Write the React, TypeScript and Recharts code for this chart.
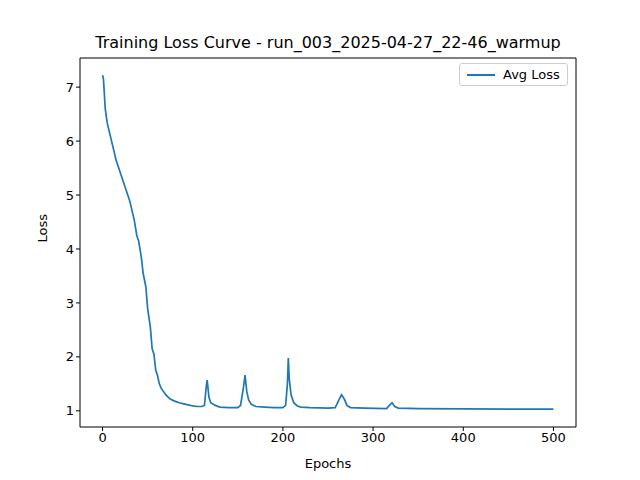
import React from "react";
import { LineChart, Line, XAxis, YAxis } from "recharts";

const epochs = [0, 1, 3, 5, 10, 15, 20, 25, 30, 35, 38, 40, 43, 45, 48, 50, 53, 55, 57, 59, 61, 63, 65, 70, 73, 75, 80, 85, 90, 95, 100, 105, 110, 113, 115, 116, 118, 120, 125, 130, 140, 150, 153, 156, 158, 160, 162, 165, 170, 180, 190, 200, 203, 205, 206, 207, 209, 212, 216, 220, 230, 250, 258, 262, 265, 268, 271, 275, 290, 315, 318, 321, 324, 328, 350, 400, 500];
const avgLoss = [7.22, 7.15, 6.6, 6.35, 6.0, 5.65, 5.4, 5.15, 4.9, 4.55, 4.25, 4.15, 3.85, 3.55, 3.3, 2.9, 2.55, 2.15, 2.05, 1.75, 1.65, 1.5, 1.42, 1.3, 1.25, 1.22, 1.18, 1.15, 1.13, 1.11, 1.09, 1.08, 1.08, 1.1, 1.45, 1.57, 1.25, 1.15, 1.1, 1.07, 1.06, 1.06, 1.1, 1.4, 1.66, 1.35, 1.2, 1.12, 1.08, 1.07, 1.06, 1.06, 1.1, 1.5, 1.98, 1.6, 1.3, 1.15, 1.09, 1.07, 1.06, 1.05, 1.06, 1.2, 1.3, 1.22, 1.1, 1.06, 1.05, 1.04, 1.1, 1.15, 1.08, 1.05, 1.04, 1.035, 1.03];
const xTicks = [0, 100, 200, 300, 400, 500];
const yTicks = [1, 2, 3, 4, 5, 6, 7];

const data = epochs.map((e, i) => ({ epoch: e, loss: avgLoss[i] }));

const FONT = "DejaVu Sans, sans-serif";
const TICK = { fill: "#000", fontSize: 13, fontFamily: FONT };

export default function App() {
  return (
    <div style={{ position: "fixed", top: 0, left: 0, width: 640, height: 480, background: "#fff" }}>
      <div
        style={{
          position: "absolute",
          top: 33,
          left: 80,
          width: 496,
          textAlign: "center",
          fontFamily: FONT,
          fontSize: 16,
        }}
      >
        Training Loss Curve - run_003_2025-04-27_22-46_warmup
      </div>
      <LineChart width={640} height={480} data={data} margin={{ top: 57, right: 63, bottom: 0, left: 0 }}>
        <XAxis
          dataKey="epoch"
          type="number"
          domain={[-25, 525]}
          ticks={xTicks}
          tick={TICK}
          tickSize={4}
          height={53}
          stroke="#000"
          label={{ value: "Epochs", position: "insideBottom", offset: 12, fill: "#000", fontSize: 13, fontFamily: FONT }}
        />
        <XAxis xAxisId="top" dataKey="epoch" type="number" domain={[-25, 525]} orientation="top" height={1} tick={false} tickLine={false} stroke="#000" />
        <YAxis
          type="number"
          domain={[0.7, 7.54]}
          ticks={yTicks}
          tick={TICK}
          tickSize={4}
          width={80}
          stroke="#000"
          label={{ value: "Loss", angle: -90, position: "insideLeft", offset: 42, fill: "#000", fontSize: 13, fontFamily: FONT }}
        />
        <YAxis yAxisId="right" orientation="right" domain={[0.7, 7.54]} width={1} tick={false} tickLine={false} stroke="#000" />
        <Line dataKey="loss" type="linear" stroke="#1f77b4" strokeWidth={1.7} dot={false} isAnimationActive={false} />
      </LineChart>
      <div
        style={{
          position: "absolute",
          top: 63,
          left: 459,
          border: "1px solid #ccc",
          borderRadius: 3,
          background: "#fff",
          padding: "3px 7px",
          display: "flex",
          alignItems: "center",
          fontFamily: FONT,
          fontSize: 13,
          color: "#000",
        }}
      >
        <span style={{ display: "inline-block", width: 28, height: 2, background: "#1f77b4", marginRight: 8 }} />
        Avg Loss
      </div>
    </div>
  );
}
